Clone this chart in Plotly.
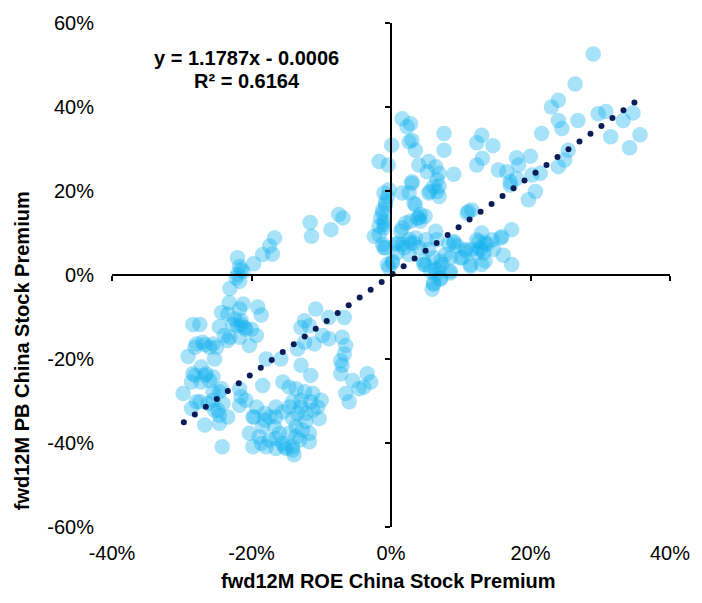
import numpy as np
import plotly.graph_objects as go

# (fwd12M ROE premium %, fwd12M PB premium %), grouped by region
left_tail = [(-11.6,12.5),(-11.4,9.2),(-8.6,10.8),(-7.5,14.4),(-6.9,13.6),(-16.7,8.8),(-17.4,6.9),
             (-17.0,5.0),(-18.4,4.9),(-19.7,2.7),(-22.0,4.1),(-21.7,2.0),(-21.2,0.8),(-22.2,-0.7),
             (-21.7,-1.5),(-23.1,-3.2),(-22.0,0.1),(-21.5,1.3)]
left_group = [(-23.2,-6.6),(-21.2,-6.9),(-19.1,-7.6),(-24.3,-8.9),(-23.4,-9.3),(-21.7,-8.1),(-18.6,-9.5),
              (-24.6,-12.3),(-22.7,-11.7),(-21.5,-11.8),(-20.8,-12.9),(-19.3,-14.4),(-23.1,-14.8),(-20.3,-16.8),
              (-28.4,-11.8),(-27.4,-11.8),(-28.1,-17.2),(-26.7,-16.6),(-26.0,-17.2),(-25.0,-17.2),(-29.1,-19.4),
              (-25.3,-20.0),(-28.4,-23.5),(-27.2,-21.9),(-26.7,-23.9),(-25.5,-24.3),(-28.6,-25.5),(-27.2,-25.5),
              (-29.8,-28.2),(-25.5,-27.8),(-24.3,-27.1),(-27.4,-30.2),(-28.6,-31.8),(-26.2,-30.6),(-24.8,-32.2),
              (-23.4,-33.8),(-24.6,-33.4),(-26.7,-35.7),(-21.7,-27.1),(-21.5,-29.0),(-20.8,-29.8),(-21.7,-31.0),
              (-24.2,-40.9),(-22.4,-10.5),(-21.0,-12.5),(-20.0,-12.9),(-23.9,-14.4),(-21.7,-14.8),(-23.4,-15.6),
              (-27.0,-16.0),(-25.5,-16.4),(-27.9,-16.4),(-22.0,-12.0),(-21.5,-10.8),(-28.1,-23.9),(-26.5,-23.5),
              (-26.0,-25.1),(-27.9,-30.2),(-25.5,-29.8),(-24.6,-27.8),(-24.1,-30.6),(-25.3,-32.2),(-24.6,-35.3),
              (-18.4,-26.3),(-19.8,-33.8)]
middle_group = [(-10.8,-8.1),(-12.4,-10.9),(-11.7,-12.1),(-8.9,-10.1),(-6.7,-10.1),(-12.9,-12.5),(-9.8,-14.4),
                (-8.9,-15.2),(-11.0,-16.4),(-13.4,-17.6),(-12.4,-16.0),(-7.0,-14.8),(-6.5,-16.8),(-6.7,-18.8),
                (-7.2,-20.4),(-7.0,-21.5),(-15.8,-20.0),(-17.9,-20.0),(-12.9,-21.5),(-7.2,-23.5),(-5.5,-25.1),
                (-4.6,-27.1),(-3.4,-23.5),(-2.9,-25.5),(-3.9,-26.7),(-6.5,-28.2),(-6.0,-30.2),(-15.5,-25.5),
                (-11.5,-23.9),(-14.6,-26.7),(-13.6,-27.1),(-12.4,-27.8),(-11.2,-28.2),(-10.0,-29.8),(-11.5,-30.2),
                (-12.9,-29.8),(-14.1,-30.2),(-11.2,-32.2),(-12.2,-33.0),(-13.4,-33.0),(-10.3,-34.2),(-19.3,-31.4),
                (-18.1,-33.0),(-19.6,-33.8),(-17.4,-33.8),(-16.5,-31.4),(-16.5,-33.8),(-15.5,-32.6),(-14.6,-31.4),
                (-16.7,-36.1),(-18.4,-36.1),(-13.6,-36.1),(-12.7,-36.9),(-11.7,-37.7),(-14.6,-37.7),(-18.9,-38.5),
                (-17.4,-39.3),(-19.8,-40.9),(-18.6,-40.1),(-17.9,-40.9),(-15.5,-40.1),(-14.1,-40.9),(-13.9,-42.8),
                (-15.0,-41.3),(-16.0,-37.7),(-20.3,-37.7),(-16.5,-41.3),(-13.1,-39.3),(-12.9,-31.4),(-10.5,-31.4),
                (-12.2,-34.9),(-14.1,-34.2),(-18.1,-34.6),(-16.5,-38.9),(-15.3,-40.9),(-14.1,-41.7),(-13.6,-38.5),
                (-11.7,-39.7)]
near_origin = [(-1.2,15.5),(-1.0,12.8),(-1.7,9.6),(-1.2,7.3),(-0.8,6.5),(0.7,7.3),(0.2,2.9),(-0.3,1.7),
               (-0.3,20.3),(-0.5,18.7),(-0.8,16.7),(-1.2,14.7),(-1.5,13.6),(-1.0,12.0),(-1.7,11.6),(-2.4,9.2),
               (-1.0,6.5),(0.1,30.9),(-1.7,27.0),(-0.4,26.2),(1.6,37.2),(2.8,36.0),(2.3,35.3),(3.0,32.1),
               (2.6,31.7),(3.5,29.7),(1.6,19.5),(2.6,19.5),(3.0,22.2),(3.5,16.7),(-1.0,19.5),(-0.8,17.4),
               (-1.0,11.2),(0.2,3.3),(-0.5,2.5),(0.9,5.3),(1.1,7.6),(1.9,6.5),(2.8,7.6),(2.6,4.9),(1.6,11.2),
               (1.4,10.4),(2.1,12.4),(2.8,12.8),(1.6,7.3),(2.6,8.4),(3.3,7.6),(3.0,21.8),(3.3,17.1)]
upper_right = [(29.0,52.6),(26.4,45.5),(24.0,41.6),(23.0,40.0),(24.0,36.8),(24.5,34.9),(26.8,36.8),(21.6,33.7),
               (29.7,38.4),(30.8,38.9),(34.7,38.6),(33.3,36.8),(31.5,32.9),(35.7,33.4),(34.2,30.3),(25.4,29.7),
               (24.9,27.4),(24.0,25.8),(20.0,28.3),(18.0,27.9),(18.3,26.2),(15.4,25.0),(16.6,24.6),(17.1,22.2),
               (18.0,23.0),(20.2,23.8),(21.4,24.2),(20.7,19.9),(19.7,17.9),(17.1,21.4),(13.0,33.3),(12.3,31.5),
               (14.6,30.8),(13.1,27.8),(12.3,26.2),(7.6,33.7),(7.6,29.7),(4.0,26.2),(5.4,27.0),(5.2,24.6),
               (6.4,25.8),(6.9,24.2),(9.0,24.0),(6.6,22.6),(6.1,21.1),(6.6,19.9),(5.4,19.5),(6.9,18.7),
               (5.6,19.9),(6.9,21.1),(4.2,14.4),(4.9,14.0),(3.8,13.6),(4.0,13.6),(4.2,12.8),(3.5,8.8),
               (11.1,15.1),(11.6,15.5),(10.9,14.7)]
lower_right = [(17.3,10.8),(15.9,9.1),(16.1,4.7),(17.3,2.5),(13.0,10.0),(12.6,8.0),(13.8,7.3),(6.4,10.4),
               (6.6,8.4),(5.0,8.4),(9.0,7.6),(8.3,7.3),(9.5,6.9),(10.7,5.7),(11.6,6.1),(12.8,6.5),(12.3,5.3),
               (13.3,5.3),(13.0,2.5),(11.4,2.5),(10.2,4.1),(7.8,4.9),(7.1,3.3),(6.1,4.1),(4.7,2.5),(6.9,1.7),
               (8.5,0.5),(6.4,0.1),(6.1,-2.2),(5.9,-3.4),(7.1,-1.0),(14.5,8.4),(14.7,6.1),(9.0,8.0),(12.3,8.4),
               (13.5,7.6),(15.7,8.8),(10.7,6.1),(12.8,6.1),(13.5,3.3),(11.4,2.1),(9.9,4.1),(8.5,4.1),(8.5,0.9),
               (7.3,2.5),(6.4,1.3),(7.1,-0.7),(6.1,-1.9),(4.9,2.5),(5.4,6.1),(4.7,3.3),(4.0,6.5),(5.7,0.9)]

# trendline as reported in the chart
slope = 1.1787
intercept = -0.0006
r_squared = 0.6164
trend_x_start, trend_x_end, trend_dots = -0.297, 0.349, 42

x_ticks = [-0.4, -0.2, 0.0, 0.2, 0.4]
y_ticks = [-0.6, -0.4, -0.2, 0.0, 0.2, 0.4, 0.6]
x_tick_text = [f"{v*100:.0f}%" for v in x_ticks]
y_tick_text = [f"{v*100:.0f}%" for v in y_ticks]

all_pts = left_tail + left_group + middle_group + near_origin + upper_right + lower_right
roe = np.array([p[0] for p in all_pts]) / 100.0
pb = np.array([p[1] for p in all_pts]) / 100.0

tx = np.linspace(trend_x_start, trend_x_end, trend_dots)
ty = slope * tx + intercept

FONT = "Liberation Sans, Arial, Helvetica, sans-serif"

fig = go.Figure()
fig.add_trace(go.Scatter(x=roe, y=pb, mode="markers",
                         marker=dict(size=15.5, color="rgba(16,176,238,0.37)", line=dict(width=0)),
                         showlegend=False, hoverinfo="x+y"))
fig.add_trace(go.Scatter(x=tx, y=ty, mode="markers",
                         marker=dict(size=6, color="#0b1d57", line=dict(width=0)),
                         showlegend=False, hoverinfo="skip"))
# invisible trace carrying the crossing axes
fig.add_trace(go.Scatter(x=[], y=[], xaxis="x2", yaxis="y2", showlegend=False))

axis_common = dict(showgrid=False, zeroline=False)
fig.update_layout(
    width=702, height=603,
    margin=dict(l=112, r=30, t=20, b=76),
    paper_bgcolor="white", plot_bgcolor="white",
    font=dict(family=FONT, size=20, color="#000"),
    xaxis=dict(range=[-0.4, 0.4], tickvals=x_ticks, ticktext=x_tick_text, showline=False,
               ticks="", ticklabelstandoff=12, tickfont=dict(size=20), **axis_common),
    yaxis=dict(range=[-0.6, 0.6], tickvals=y_ticks, ticktext=y_tick_text, showline=False,
               ticks="", ticklabelstandoff=17, tickfont=dict(size=20), **axis_common),
    xaxis2=dict(range=[-0.4, 0.4], tickvals=x_ticks, overlaying="x", anchor="free", position=0.5,
                showline=True, linecolor="#000", linewidth=1.5, ticks="outside", ticklen=5,
                tickwidth=1.5, tickcolor="#000", showticklabels=False, **axis_common),
    yaxis2=dict(range=[-0.6, 0.6], tickvals=y_ticks, overlaying="y", anchor="free", position=0.5,
                showline=True, linecolor="#000", linewidth=1.5, ticks="outside", ticklen=5,
                tickwidth=1.5, tickcolor="#000", showticklabels=False, **axis_common),
    annotations=[
        dict(text=f"<b>y = {slope:.4f}x - {abs(intercept):.4f}</b>", x=-0.207, y=0.517,
             xref="x", yref="y", showarrow=False, xanchor="center", yanchor="middle",
             font=dict(size=20)),
        dict(text=f"<b>R² = {r_squared:.4f}</b>", x=-0.207, y=0.462,
             xref="x", yref="y", showarrow=False, xanchor="center", yanchor="middle",
             font=dict(size=20)),
        dict(text="<b>fwd12M ROE China Stock Premium</b>", x=0.495, y=-0.107, xref="paper",
             yref="paper", showarrow=False, xanchor="center", yanchor="middle", font=dict(size=20)),
        dict(text="<b>fwd12M PB China Stock Premium</b>", x=-0.161, y=0.349, xref="paper",
             yref="paper", showarrow=False, xanchor="center", yanchor="middle", textangle=-90,
             font=dict(size=20)),
    ],
)

fig.write_html("out.html", config={"displayModeBar": False},
               post_script="document.body.style.margin='0';document.body.style.padding='0';")
